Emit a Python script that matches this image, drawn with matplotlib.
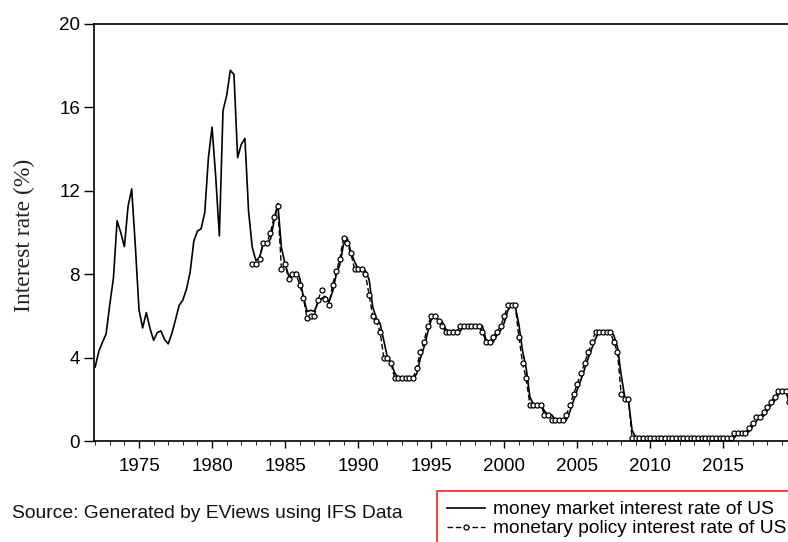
import numpy as np
import matplotlib
matplotlib.use('Agg')
import matplotlib.pyplot as plt
from matplotlib.patches import Rectangle
from matplotlib.ticker import MultipleLocator

plt.rcParams['font.family'] = ['Liberation Sans', 'DejaVu Sans']

# money market rate, quarterly, 1972Q1 - 2019Q4
money_rate = [
    3.55, 4.30, 4.74, 5.14,   # 1972
    6.54, 7.82, 10.56, 10.00,  # 1973
    9.32, 11.25, 12.09, 9.35,  # 1974
    6.30, 5.42, 6.16, 5.41,    # 1975
    4.83, 5.20, 5.28, 4.87,    # 1976
    4.66, 5.16, 5.82, 6.51,    # 1977
    6.76, 7.28, 8.10, 9.58,    # 1978
    10.07, 10.18, 10.95, 13.58,  # 1979
    15.05, 12.69, 9.84, 15.85,   # 1980
    16.57, 17.78, 17.58, 13.59,  # 1981
    14.23, 14.51, 11.01, 9.29,   # 1982
    8.65, 8.80, 9.46, 9.43,      # 1983
    9.69, 10.56, 11.39, 9.27,    # 1984
    8.48, 7.92, 7.90, 8.10,      # 1985
    7.83, 6.92, 6.21, 6.27,      # 1986
    6.22, 6.65, 6.84, 6.92,      # 1987
    6.66, 7.16, 7.98, 8.47,      # 1988
    9.44, 9.73, 9.08, 8.61,      # 1989
    8.25, 8.24, 8.16, 7.74,      # 1990
    6.43, 5.86, 5.64, 4.82,      # 1991
    4.02, 3.77, 3.26, 3.04,      # 1992
    3.04, 3.00, 3.06, 2.99,      # 1993
    3.21, 3.94, 4.49, 5.17,      # 1994
    5.81, 6.02, 5.80, 5.72,      # 1995
    5.36, 5.24, 5.31, 5.28,      # 1996
    5.28, 5.52, 5.53, 5.51,      # 1997
    5.52, 5.50, 5.53, 4.86,      # 1998
    4.73, 4.75, 5.09, 5.31,      # 1999
    5.68, 6.27, 6.52, 6.47,      # 2000
    5.59, 4.33, 3.50, 2.13,      # 2001
    1.73, 1.75, 1.74, 1.44,      # 2002
    1.25, 1.25, 1.02, 1.00,      # 2003
    1.00, 1.01, 1.43, 1.95,      # 2004
    2.47, 2.94, 3.46, 3.98,      # 2005
    4.46, 4.91, 5.25, 5.25,      # 2006
    5.26, 5.25, 5.07, 4.50,      # 2007
    3.18, 2.09, 1.94, 0.51,      # 2008
    0.18, 0.18, 0.16, 0.12,      # 2009
    0.13, 0.19, 0.19, 0.19,      # 2010
    0.16, 0.09, 0.08, 0.07,      # 2011
    0.10, 0.15, 0.14, 0.16,      # 2012
    0.14, 0.12, 0.08, 0.09,      # 2013
    0.07, 0.09, 0.09, 0.10,      # 2014
    0.11, 0.12, 0.13, 0.16,      # 2015
    0.36, 0.37, 0.39, 0.45,      # 2016
    0.70, 0.95, 1.15, 1.20,      # 2017
    1.45, 1.74, 1.92, 2.22,      # 2018
    2.40, 2.40, 1.90, 1.55,      # 2019
]

# policy rate, quarterly, 1982Q4 - 2019Q4
policy_rate = [
    8.50,                        # 1982Q4
    8.50, 8.75, 9.50, 9.50,      # 1983
    10.00, 10.75, 11.25, 8.25,   # 1984
    8.50, 7.75, 8.00, 8.00,      # 1985
    7.50, 6.88, 5.88, 6.00,      # 1986
    6.00, 6.75, 7.25, 6.80,      # 1987
    6.50, 7.50, 8.13, 8.75,      # 1988
    9.75, 9.50, 9.00, 8.25,      # 1989
    8.25, 8.25, 8.00, 7.00,      # 1990
    6.00, 5.75, 5.25, 4.00,      # 1991
    4.00, 3.75, 3.00, 3.00,      # 1992
    3.00, 3.00, 3.00, 3.00,      # 1993
    3.50, 4.25, 4.75, 5.50,      # 1994
    6.00, 6.00, 5.75, 5.50,      # 1995
    5.25, 5.25, 5.25, 5.25,      # 1996
    5.50, 5.50, 5.50, 5.50,      # 1997
    5.50, 5.50, 5.25, 4.75,      # 1998
    4.75, 5.00, 5.25, 5.50,      # 1999
    6.00, 6.50, 6.50, 6.50,      # 2000
    5.00, 3.75, 3.00, 1.75,      # 2001
    1.75, 1.75, 1.75, 1.25,      # 2002
    1.25, 1.00, 1.00, 1.00,      # 2003
    1.00, 1.25, 1.75, 2.25,      # 2004
    2.75, 3.25, 3.75, 4.25,      # 2005
    4.75, 5.25, 5.25, 5.25,      # 2006
    5.25, 5.25, 4.75, 4.25,      # 2007
    2.25, 2.00, 2.00, 0.13,      # 2008
    0.13, 0.13, 0.13, 0.13,      # 2009
    0.13, 0.13, 0.13, 0.13,      # 2010
    0.13, 0.13, 0.13, 0.13,      # 2011
    0.13, 0.13, 0.13, 0.13,      # 2012
    0.13, 0.13, 0.13, 0.13,      # 2013
    0.13, 0.13, 0.13, 0.13,      # 2014
    0.13, 0.13, 0.13, 0.38,      # 2015
    0.38, 0.38, 0.38, 0.63,      # 2016
    0.88, 1.13, 1.13, 1.38,      # 2017
    1.63, 1.88, 2.13, 2.38,      # 2018
    2.38, 2.38, 1.88, 1.63,      # 2019
]

money_t = 1972 + np.arange(len(money_rate)) / 4
policy_t = 1982.75 + np.arange(len(policy_rate)) / 4

fig = plt.figure(figsize=(7.88, 5.42), dpi=100)
ax = fig.add_axes([94 / 788, 1 - 441 / 542, (788 - 94) / 788, (441 - 24) / 542])

ax.plot(money_t, money_rate, color='black', lw=1.2,
        label='money market interest rate of US')
ax.plot(policy_t, policy_rate, color='black', lw=1.0, ls=(0, (4, 2)),
        marker='o', ms=3.6, mfc='white', mec='black', mew=0.9,
        label='monetary policy interest rate of US')

ax.set_xlim(1971.92, 2019.42)
ax.set_ylim(0, 20)
ax.set_yticks([0, 4, 8, 12, 16, 20])
ax.xaxis.set_major_locator(MultipleLocator(5))
ax.xaxis.set_minor_locator(MultipleLocator(1))
ax.set_xticks(range(1975, 2020, 5))
ax.tick_params(axis='both', direction='out', labelsize=13.5, width=1, color='black')
ax.tick_params(axis='x', which='major', length=5, pad=7)
ax.tick_params(axis='x', which='minor', length=3)
ax.tick_params(axis='y', length=7, pad=3)
ax.spines['right'].set_visible(False)
for s in ['left', 'bottom', 'top']:
    ax.spines[s].set_linewidth(1.2)

fig.text(24 / 788, 1 - 235 / 542, 'Interest rate (%)', rotation=90,
         ha='center', va='center', fontsize=17, family=['Liberation Serif'],
         color='#222222')

fig.text(12 / 788, 1 - 514 / 542, 'Source: Generated by EViews using IFS Data',
         fontsize=13.9, va='center', ha='left', color='#111111')

fig.patches.append(Rectangle((437 / 788, -0.05), 0.5, 0.05 + 51 / 542,
                             transform=fig.transFigure, fill=False,
                             edgecolor='#ff2020', lw=1.2))
ax.legend(loc='upper left', bbox_to_anchor=(447 / 788, 1 - 501 / 542),
          bbox_transform=fig.transFigure, frameon=False, fontsize=13.8,
          borderpad=0, borderaxespad=0, handlelength=2.0, handletextpad=0.4,
          labelspacing=0.08, numpoints=1)

fig.savefig('out.png', dpi=100)
